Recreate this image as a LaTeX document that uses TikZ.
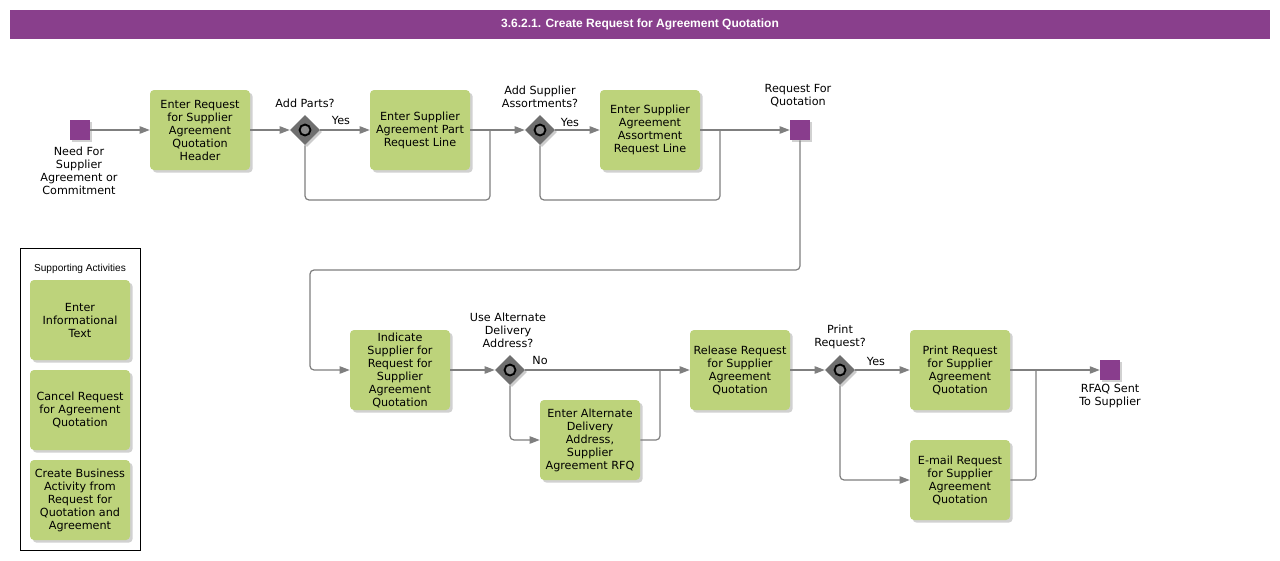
\documentclass[tikz,border=0pt]{standalone}
\usepackage{fontspec}
\usetikzlibrary{shapes.geometric,arrows.meta,shadows}
\newfontfamily\dvsans{DejaVu Sans}
\newfontfamily\lsans{Liberation Sans}
\newcommand\tfnt{\dvsans\fontsize{8.4pt}{9.75pt}\selectfont}
\definecolor{ttl}{HTML}{893F8C}
\definecolor{evt}{HTML}{893D8D}
\definecolor{tsk}{HTML}{BDD37B}
\definecolor{gwf}{HTML}{6F6F6F}
\definecolor{gwi}{HTML}{8A8A8A}
\definecolor{ln}{HTML}{7F7F7F}
\tikzset{
  taskbox/.style={rectangle, rounded corners=3pt, fill=tsk, minimum width=75pt, minimum height=60pt, inner sep=1pt, align=center, font=\tfnt, text=black,
    drop shadow={shadow xshift=2pt, shadow yshift=-2pt, fill=black, opacity=0.18}},
  evbox/.style={rectangle, fill=evt, minimum width=15pt, minimum height=15pt, inner sep=0pt,
    drop shadow={shadow xshift=1.5pt, shadow yshift=-1.5pt, fill=black, opacity=0.18}},
  gwbox/.style={diamond, fill=gwf, minimum width=22.5pt, minimum height=22.5pt, inner sep=0pt,
    drop shadow={shadow xshift=1.5pt, shadow yshift=-1.5pt, fill=black, opacity=0.2},
    path picture={\draw[line width=1.4pt, fill=gwi] (path picture bounding box.center) circle (4.1pt);}},
  lbl/.style={align=center, font=\tfnt, inner sep=0pt, text=black},
  flow/.style={draw=ln, line width=0.9pt, rounded corners=3pt, -{Triangle[length=7.5pt,width=5.5pt]}, fill=none},
  plain/.style={draw=ln, line width=0.9pt, rounded corners=3pt}
}
\begin{document}
\begin{tikzpicture}[x=0.75pt,y=-0.75pt]
\useasboundingbox (0,0) rectangle (1280,560);
\fill[white] (0,0) rectangle (1280,560);
% title
\node[fill=ttl, minimum width=945pt, minimum height=22pt, inner sep=0pt, text=white, font=\lsans\bfseries\fontsize{9pt}{11pt}\selectfont] (title) at (640,24.5) {3.6.2.1. Create Request for Agreement Quotation};

% row 1
\node[evbox] (ev1) at (80,130) {};
\node[lbl, anchor=north] (ev1l) at (79,147) {Need For\\Supplier\\Agreement or\\Commitment};
\node[taskbox] (t1) at (200,130) {Enter Request\\for Supplier\\Agreement\\Quotation\\Header};
\node[gwbox] (g1) at (305,130) {};
\node[lbl] (g1l) at (305,103) {Add Parts?};
\node[taskbox] (t2) at (420,130) {Enter Supplier\\Agreement Part\\Request Line};
\node[gwbox] (g2) at (540,130) {};
\node[lbl] (g2l) at (540,96.5) {Add Supplier\\Assortments?};
\node[taskbox] (t3) at (650,130) {Enter Supplier\\Agreement\\Assortment\\Request Line};
\node[evbox] (ev2) at (800,130) {};
\node[lbl] (ev2l) at (798,95.5) {Request For\\Quotation};
\node[lbl] (y1) at (341,120) {Yes};
\node[lbl] (y2) at (570,122) {Yes};

% row 2
\node[taskbox] (t4) at (400,370) {Indicate\\Supplier for\\Request for\\Supplier\\Agreement\\Quotation};
\node[gwbox] (g3) at (510,370) {};
\node[lbl] (g3l) at (508,330) {Use Alternate\\Delivery\\Address?};
\node[lbl] (no) at (540,360) {No};
\node[taskbox] (t5) at (590,440) {Enter Alternate\\Delivery\\Address,\\Supplier\\Agreement RFQ};
\node[taskbox] (t6) at (740,370) {Release Request\\for Supplier\\Agreement\\Quotation};
\node[gwbox] (g4) at (840,370) {};
\node[lbl] (g4l) at (840,336.5) {Print\\Request?};
\node[lbl] (y3) at (876,361) {Yes};
\node[taskbox] (t7) at (960,370) {Print Request\\for Supplier\\Agreement\\Quotation};
\node[taskbox] (t8) at (960,480) {E-mail Request\\for Supplier\\Agreement\\Quotation};
\node[evbox] (ev3) at (1110,370) {};
\node[lbl] (ev3l) at (1110,396.5) {RFAQ Sent\\To Supplier};

% legend
\node[draw=black, line width=0.75pt, minimum width=90pt, minimum height=226.5pt, inner sep=0pt] (leg) at (80,399) {};
\node[font=\lsans\fontsize{7.6pt}{9pt}\selectfont, inner sep=0pt] (legt) at (80,269) {Supporting Activities};
\node[taskbox] (s1) at (80,320) {Enter\\Informational\\Text};
\node[taskbox] (s2) at (80,410) {Cancel Request\\for Agreement\\Quotation};
\node[taskbox] (s3) at (80,500) {Create Business\\Activity from\\Request for\\Quotation and\\Agreement};

% junction coordinates
\coordinate (j1) at (490,130);
\coordinate (j2) at (720,130);
\coordinate (j3) at (660,370);
\coordinate (j4) at (1036,370);
\coordinate (b1) at (490,200);
\coordinate (b2) at (720,200);
\coordinate (b3) at (800,270);
\coordinate (b4) at (310,270);
\coordinate (b5) at (310,370);
\coordinate (b6) at (660,440);
\coordinate (b7) at (1036,480);

% connectors
\draw[flow] (ev1) -- (t1);
\draw[flow] (t1) -- (g1);
\draw[flow] (g1) -- (t2);
\draw[flow] (t2) -- (g2);
\draw[plain] (g1.south) |- (b1) -- (j1);
\draw[flow] (g2) -- (t3);
\draw[flow] (t3) -- (ev2);
\draw[plain] (g2.south) |- (b2) -- (j2);
\draw[flow] (ev2.south) -- (b3) -- (b4) -- (b5) -- (t4.west);
\draw[flow] (t4) -- (g3);
\draw[flow] (g3) -- (t6);
\draw[flow] (g3.south) |- (t5.west);
\draw[plain] (t5.east) -- (b6) -- (j3);
\draw[flow] (t6) -- (g4);
\draw[flow] (g4) -- (t7);
\draw[flow] (g4.south) |- (t8.west);
\draw[flow] (t7) -- (ev3);
\draw[plain] (t8.east) -- (b7) -- (j4);
\end{tikzpicture}
\end{document}
